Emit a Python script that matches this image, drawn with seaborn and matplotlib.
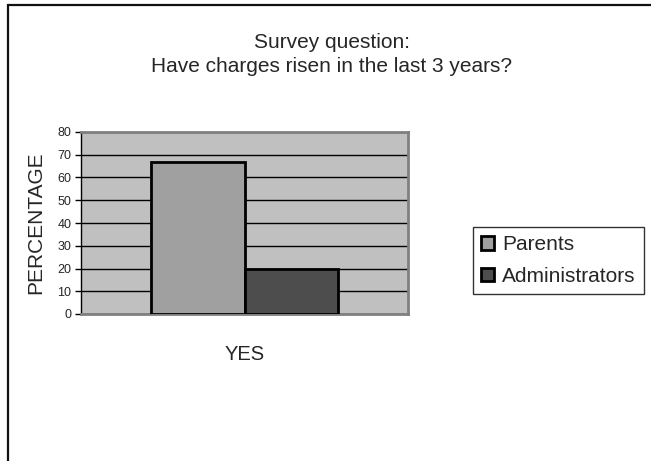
import matplotlib
matplotlib.use("Agg")
import matplotlib.pyplot as plt
from matplotlib.patches import Rectangle
import seaborn as sns
import pandas as pd

# ---- data ----
categories = ["YES"]
groups = ["Parents", "Administrators"]
values = [67, 20]
colors = ["#a0a0a0", "#4d4d4d"]
yticks = [0, 10, 20, 30, 40, 50, 60, 70, 80]
title_lines = ["Survey question:", "Have charges risen in the last 3 years?"]
ylabel = "PERCENTAGE"

df = pd.DataFrame({"answer": categories * len(groups), "group": groups, "value": values})

sns.set_style("white")
plt.rcParams["font.family"] = ["Liberation Sans", "DejaVu Sans"]

W, H = 651, 461
fig = plt.figure(figsize=(W / 100, H / 100), dpi=100)
fig.patch.set_facecolor("white")

ax = fig.add_axes([81 / W, 1 - 314 / H, (408 - 81) / W, (314 - 132) / H])
ax.set_facecolor("#c0c0c0")

sns.barplot(data=df, x="answer", y="value", hue="group", hue_order=groups,
            palette=dict(zip(groups, colors)), saturation=1, width=0.572,
            edgecolor="black", linewidth=2, ax=ax, legend=True, zorder=3)

ax.set_xlim(-0.5, 0.5)
ax.set_ylim(0, 80)
ax.set_yticks(yticks)
ax.set_yticklabels([str(t) for t in yticks], fontsize=9)
ax.set_xlabel("")
ax.set_ylabel(ylabel, fontsize=15, labelpad=9)
ax.tick_params(axis="x", length=0, pad=22, labelsize=14.5)
ax.tick_params(axis="y", left=True, length=4, width=1, color="black", pad=3)

# gridlines
ax.set_axisbelow(True)
ax.yaxis.grid(True, color="black", linewidth=1.0)

for s in ["top", "right", "bottom"]:
    ax.spines[s].set_color("#808080")
    ax.spines[s].set_linewidth(2)
ax.spines["left"].set_color("black")
ax.spines["left"].set_linewidth(1)
for s in ax.spines.values():
    s.set_visible(True)

handles, labels = ax.get_legend_handles_labels()
if ax.legend_:
    ax.legend_.remove()
leg = fig.legend(handles, labels, loc="upper left",
                 bbox_to_anchor=(473 / W, 1 - 227 / H), bbox_transform=fig.transFigure,
                 borderaxespad=0, fontsize=15, frameon=True, fancybox=False,
                 handlelength=0.6, handleheight=0.6, handletextpad=0.4,
                 labelspacing=0.6, borderpad=0.4)
leg.get_frame().set_edgecolor("black")
leg.get_frame().set_linewidth(1.0)

fig.text(332 / W, 1 - 42 / H, title_lines[0], ha="center", va="center", fontsize=15)
fig.text(332 / W, 1 - 67 / H, title_lines[1], ha="center", va="center", fontsize=15)

# chart-area border (top and left visible)
fig.patches.append(Rectangle((8 / W, -0.2), 1.2, 1.2 - 5 / H, transform=fig.transFigure,
                             fill=False, edgecolor="#111111", linewidth=1.6, zorder=0))

fig.savefig("out.png", dpi=100, facecolor="white")
